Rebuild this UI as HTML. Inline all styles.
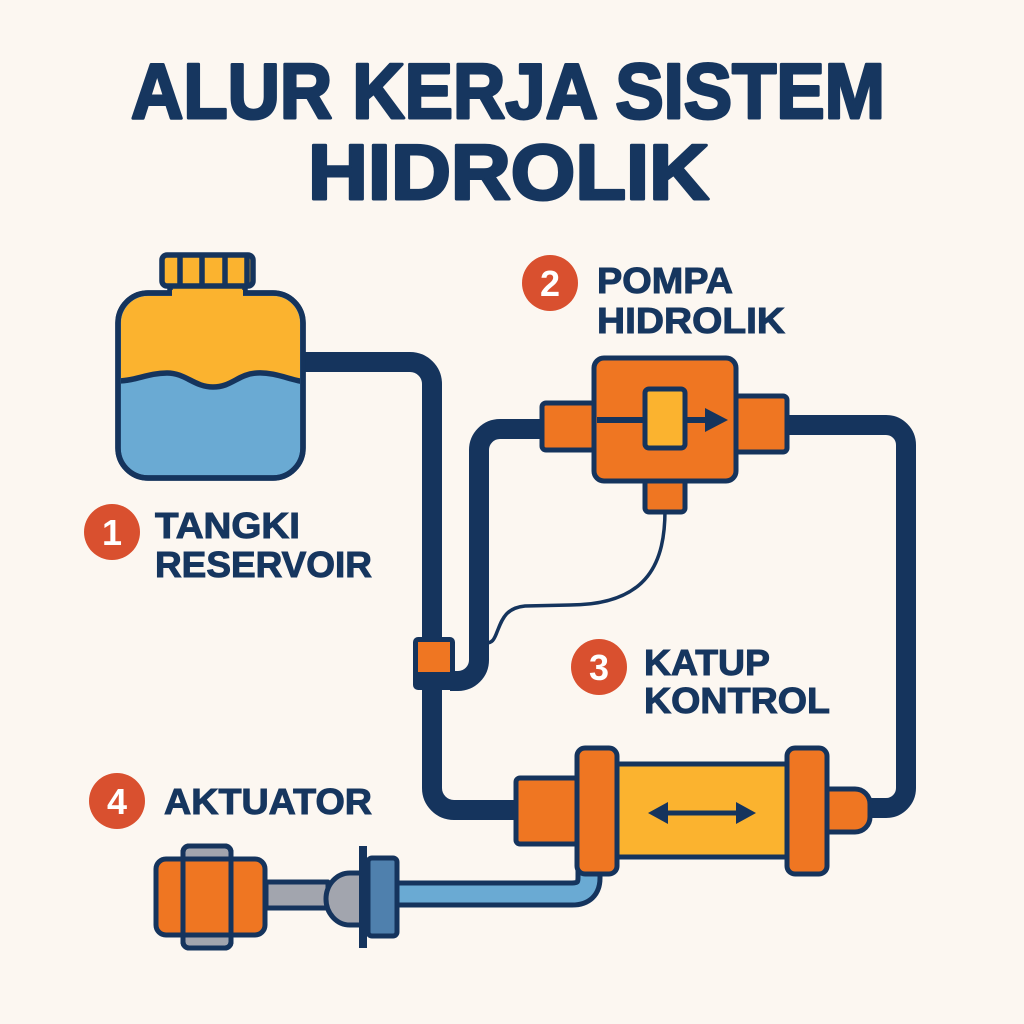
<!DOCTYPE html>
<html>
<head>
<meta charset="utf-8">
<style>
html,body{margin:0;padding:0;background:#fcf7f1;}
svg{display:block;}
</style>
</head>
<body>
<svg width="1024" height="1024" viewBox="0 0 1024 1024" xmlns="http://www.w3.org/2000/svg">
<rect width="1024" height="1024" fill="#fcf7f1"/>

<!-- Title -->
<g font-family="'Liberation Sans', sans-serif" font-weight="bold" fill="#16365f" stroke="#16365f" stroke-width="3" stroke-linejoin="round">
<text x="131" y="118" font-size="78" textLength="754" lengthAdjust="spacingAndGlyphs">ALUR KERJA SISTEM</text>
<text x="308" y="199" font-size="78" textLength="401" lengthAdjust="spacingAndGlyphs">HIDROLIK</text>
</g>

<!-- Pipes -->
<g fill="none" stroke="#15345d" stroke-width="20" stroke-linecap="butt">
  <!-- main pipe from tank -->
  <path d="M300 362 H410 A22 22 0 0 1 432 384 V788 A22 22 0 0 0 454 810 H520"/>
  <!-- second pipe from valve up to pump -->
  <path d="M450 681 H458 A21 21 0 0 0 479 660 V450 A21 21 0 0 1 500 429 H545"/>
  <!-- right pipe from pump outlet to cylinder -->
  <path d="M784 425 H886 A20 20 0 0 1 906 445 V788 A20 20 0 0 1 886 808 H864"/>
</g>

<!-- Signal wire -->
<path d="M665 510 C665 560 650 605 570 605 L525 606 C505 608 502 620 497 632 C494 640 492 643 486 643" fill="none" stroke="#15345d" stroke-width="3.5"/>

<!-- Valve on pipe -->
<rect x="413" y="637" width="42" height="53" rx="5" fill="#15345d"/>
<rect x="418" y="642" width="32" height="30" fill="#ef7622"/>

<!-- Tank -->
<g stroke="#15345d" stroke-width="5.5" stroke-linejoin="round">
  <rect x="170" y="280" width="75" height="18" fill="#fbb32f"/>
  <rect x="162" y="255" width="91" height="31" rx="5" fill="#fbb32f"/>
  <line x1="180" y1="256" x2="180" y2="285"/>
  <line x1="202" y1="256" x2="202" y2="285"/>
  <line x1="225" y1="256" x2="225" y2="285"/>
  <line x1="247" y1="256" x2="247" y2="285"/>
  <rect x="118" y="293" width="185" height="185" rx="30" fill="#6aaad3"/>
</g>
<clipPath id="tankclip"><rect x="121" y="296" width="179" height="179" rx="27"/></clipPath>
<path d="M118 290 H305 V382 C290 380 275 372 257 373 C238 374 232 387 213 387 C194 387 186 373 167 373 C148 373 135 381 118 381 Z" fill="#fbb32f" clip-path="url(#tankclip)"/>
<path d="M118 381 C135 381 148 373 167 373 C186 373 194 387 213 387 C232 387 238 374 257 373 C275 372 290 380 305 382" fill="none" stroke="#15345d" stroke-width="5.5" clip-path="url(#tankclip)"/>
<rect x="118" y="293" width="185" height="185" rx="30" fill="none" stroke="#15345d" stroke-width="5.5"/>
<rect x="172" y="290" width="71" height="7" fill="#fbb32f"/>

<!-- Pump -->
<g stroke="#15345d" stroke-width="5" stroke-linejoin="round">
  <rect x="542" y="403" width="53" height="47" rx="4" fill="#ef7622"/>
  <rect x="735" y="396" width="52" height="56" rx="4" fill="#ef7622"/>
  <rect x="645" y="479" width="40" height="33" rx="4" fill="#ef7622"/>
  <rect x="594" y="358" width="142" height="123" rx="10" fill="#ef7622"/>
</g>
<line x1="597" y1="420" x2="712" y2="420" stroke="#15345d" stroke-width="6"/>
<polygon points="705,408 728,420 705,432" fill="#15345d"/>
<rect x="645" y="389" width="40" height="59" rx="4" fill="#fbb32f" stroke="#15345d" stroke-width="5"/>

<!-- Cylinder / control valve -->
<g stroke="#15345d" stroke-width="5" stroke-linejoin="round">
  <rect x="516" y="778" width="62" height="66" rx="4" fill="#ef7622"/>
  <rect x="612" y="764" width="178" height="93" fill="#fbb32f"/>
  <path d="M826 789 H855 A15 15 0 0 1 870 804 V817 A15 15 0 0 1 855 832 H826 Z" fill="#ef7622"/>
</g>
<!-- blue pipe -->
<path d="M589 860 V878 Q589 894 572 894 H392" fill="none" stroke="#15345d" stroke-width="27"/>
<path d="M589 860 V878 Q589 894 572 894 H392" fill="none" stroke="#6aaad3" stroke-width="17"/>
<g stroke="#15345d" stroke-width="5" stroke-linejoin="round">
  <rect x="577" y="748" width="40" height="126" rx="8" fill="#ef7622"/>
  <rect x="787" y="748" width="40" height="126" rx="8" fill="#ef7622"/>
</g>
<!-- double arrow -->
<line x1="660" y1="813" x2="744" y2="813" stroke="#15345d" stroke-width="5"/>
<polygon points="648,813 668,802 668,824" fill="#15345d"/>
<polygon points="756,813 736,802 736,824" fill="#15345d"/>

<!-- Actuator (bottom left) -->
<g stroke="#15345d" stroke-width="5" stroke-linejoin="round">
  <rect x="266" y="882" width="62" height="26" fill="#a2a5ae"/>
  <path d="M362 873 H350 A24 26 0 0 0 350 925 H362 Z" fill="#a2a5ae"/>
  <rect x="368" y="858" width="29" height="78" rx="4" fill="#4f80ad"/>
  <rect x="183" y="846" width="48" height="102" rx="6" fill="#a2a5ae"/>
  <rect x="156" y="859" width="109" height="76" rx="10" fill="#ef7622"/>
  <rect x="183" y="846" width="48" height="102" rx="6" fill="none"/>
</g>
<rect x="359" y="846" width="8" height="102" fill="#15345d"/>

<!-- Labels -->
<g font-family="'Liberation Sans', sans-serif" font-weight="bold">
  <circle cx="112" cy="532" r="28" fill="#d9502f"/>
  <text x="112" y="545" font-size="36" fill="#ffffff" text-anchor="middle">1</text>
  <text x="155" y="538" font-size="36" fill="#16365f" stroke="#16365f" stroke-width="1" textLength="145" lengthAdjust="spacingAndGlyphs">TANGKI</text>
  <text x="155" y="577" font-size="36" fill="#16365f" stroke="#16365f" stroke-width="1" textLength="217" lengthAdjust="spacingAndGlyphs">RESERVOIR</text>

  <circle cx="550" cy="283" r="28" fill="#d9502f"/>
  <text x="550" y="296" font-size="36" fill="#ffffff" text-anchor="middle">2</text>
  <text x="597" y="293" font-size="36" fill="#16365f" stroke="#16365f" stroke-width="1" textLength="136" lengthAdjust="spacingAndGlyphs">POMPA</text>
  <text x="597" y="333" font-size="36" fill="#16365f" stroke="#16365f" stroke-width="1" textLength="188" lengthAdjust="spacingAndGlyphs">HIDROLIK</text>

  <circle cx="599" cy="667" r="28" fill="#d9502f"/>
  <text x="599" y="680" font-size="36" fill="#ffffff" text-anchor="middle">3</text>
  <text x="644" y="675" font-size="36" fill="#16365f" stroke="#16365f" stroke-width="1" textLength="126" lengthAdjust="spacingAndGlyphs">KATUP</text>
  <text x="644" y="713" font-size="36" fill="#16365f" stroke="#16365f" stroke-width="1" textLength="186" lengthAdjust="spacingAndGlyphs">KONTROL</text>

  <circle cx="117" cy="801" r="28" fill="#d9502f"/>
  <text x="117" y="814" font-size="36" fill="#ffffff" text-anchor="middle">4</text>
  <text x="164" y="814" font-size="36" fill="#16365f" stroke="#16365f" stroke-width="1" textLength="208" lengthAdjust="spacingAndGlyphs">AKTUATOR</text>
</g>
</svg>
</body>
</html>
